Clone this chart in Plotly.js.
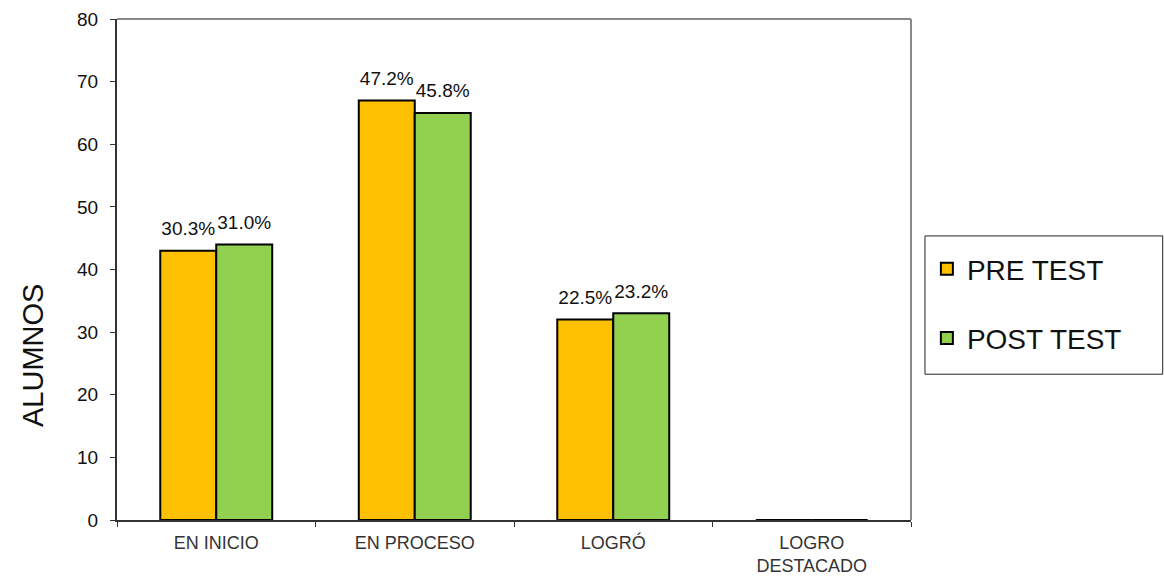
<!DOCTYPE html>
<html>
<head>
<meta charset="utf-8">
<script src="https://cdn.plot.ly/plotly-3.0.1.min.js"></script>
<style>html,body{margin:0;padding:0;background:#fff;}#chart{width:1164px;height:577px;}</style>
</head>
<body>
<div id="chart"></div>
<script>
const categories = ["EN INICIO", "EN PROCESO", "LOGRÓ", "LOGRO<br>DESTACADO"];
const preValues = [43, 67, 32, 0];
const postValues = [44, 65, 33, 0];
const preLabels = ["30.3%", "47.2%", "22.5%", ""];
const postLabels = ["31.0%", "45.8%", "23.2%", ""];
const yTicks = [0, 10, 20, 30, 40, 50, 60, 70, 80];

const FONT = "Liberation Sans, Arial, sans-serif";

function barTrace(name, y, color, group) {
  return {
    type: "bar", name: name, x: categories, y: y,
    marker: {color: color, line: {color: "#000", width: 2}},
    offsetgroup: group, alignmentgroup: "g", legendgroup: group, hoverinfo: "x+y"
  };
}
function labelTrace(name, y, labels, group) {
  return {
    type: "scatter", mode: "markers+text", name: name, x: categories, y: y,
    text: labels, textposition: "top center", cliponaxis: false,
    textfont: {family: FONT, size: 19, color: "#111"},
    marker: {size: 16, color: "rgba(0,0,0,0)", line: {width: 0}},
    offsetgroup: group, alignmentgroup: "g", showlegend: false, hoverinfo: "skip"
  };
}

const traces = [
  barTrace("PRE TEST", preValues, "#FFC000", "a"),
  barTrace("POST TEST", postValues, "#92D050", "b"),
  labelTrace("PRE TEST", preValues, preLabels, "a"),
  labelTrace("POST TEST", postValues, postLabels, "b")
];

const layout = {
  width: 1164, height: 577,
  margin: {l: 117, r: 253, t: 19, b: 57},
  paper_bgcolor: "#fff", plot_bgcolor: "#fff",
  barmode: "group", bargap: 0.436, bargroupgap: 0,
  scattermode: "group", scattergap: 0.436,
  font: {family: FONT, color: "#111"},
  showlegend: true,
  legend: {
    x: 1.02, xanchor: "left", y: 0.551, yanchor: "top",
    borderwidth: 0, bgcolor: "rgba(0,0,0,0)",
    font: {family: FONT, size: 28, color: "#111"},
    traceorder: "grouped", tracegroupgap: 30,
    itemsizing: "constant"
  },
  xaxis: {
    type: "category", tickson: "boundaries", ticks: "outside", ticklen: 5,
    tickcolor: "#333", linecolor: "#333", linewidth: 2, showline: true,
    showgrid: false, zeroline: false, ticklabelstandoff: 5,
    tickfont: {family: FONT, size: 18, color: "#333"}
  },
  yaxis: {
    range: [0, 80], tickvals: yTicks, ticks: "outside", ticklen: 5,
    tickcolor: "#333", linecolor: "#333", linewidth: 2, showline: true,
    showgrid: false, zeroline: false, ticklabelstandoff: 8,
    tickfont: {family: FONT, size: 19, color: "#111"}
  },
  shapes: [
    {type: "line", xref: "paper", yref: "paper", x0: 0, x1: 1, y0: 1, y1: 1, line: {color: "#888", width: 2}},
    {type: "line", xref: "paper", yref: "paper", x0: 1, x1: 1, y0: 0, y1: 1, line: {color: "#888", width: 2}},
    {type: "rect", xref: "paper", yref: "paper", x0: 1.0176, x1: 1.317, y0: 0.291, y1: 0.567, line: {color: "#222", width: 1}, fillcolor: "rgba(0,0,0,0)"}
  ],
  annotations: [
    {text: "ALUMNOS", xref: "paper", yref: "paper", x: -0.106, y: 0.329,
     xanchor: "center", yanchor: "middle", textangle: -90, showarrow: false,
     font: {family: FONT, size: 29, color: "#111"}}
  ]
};

Plotly.newPlot("chart", traces, layout, {displayModeBar: false, staticPlot: true});
</script>
</body>
</html>
